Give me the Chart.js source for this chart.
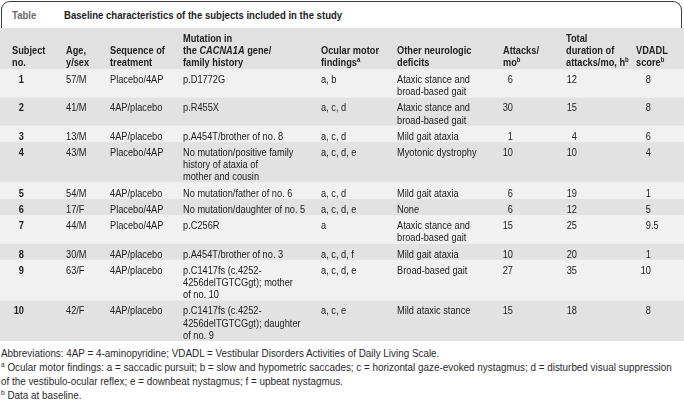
<!DOCTYPE html>
<html>
<head>
<meta charset="utf-8">
<script src="https://cdn.jsdelivr.net/npm/chart.js@4.4.1/dist/chart.umd.min.js"></script>
<style>
  body { margin: 0; width: 684px; height: 404px; background: #fff; position: relative; overflow: hidden;
         font-family: "Liberation Sans", Arial, sans-serif; color: #222; }
  #titleBox { position: absolute; left: 1px; top: 1px; width: 679px; height: 27px; border: 1.5px solid #3a3a3a;
              border-bottom: none; border-radius: 9px 9px 0 0; box-sizing: content-box; }
  #titleBox span { position: absolute; top: 7px; font-weight: bold; font-size: 11px; white-space: nowrap;
                   transform: scaleX(0.87); transform-origin: left center; }
  #tableWrap { position: absolute; left: 0; top: 28px; width: 684px; }
  #notes { position: absolute; left: 1px; top: 346px; font-size: 10.5px; line-height: 14px; white-space: nowrap; color: #2a2a2a;
           transform: scaleX(0.94); transform-origin: left top; }
  #notes sup { font-size: 7px; vertical-align: top; position: relative; top: -2px; }
</style>
</head>
<body>
<div id="titleBox">
  <span style="left:10px;color:#6b6b6b">Table</span>
  <span style="left:62px;color:#1e1e1e">Baseline characteristics of the subjects included in the study</span>
</div>
<div id="tableWrap"><canvas id="tableChart"></canvas></div>
<div id="notes">
  Abbreviations: 4AP = 4-aminopyridine; VDADL = Vestibular Disorders Activities of Daily Living Scale.<br>
  <sup>a</sup> Ocular motor findings: a = saccadic pursuit; b = slow and hypometric saccades; c = horizontal gaze-evoked nystagmus; d = disturbed visual suppression<br>
  of the vestibulo-ocular reflex; e = downbeat nystagmus; f = upbeat nystagmus.<br>
  <sup>b</sup> Data at baseline.
</div>
<script>
// Spaltenköpfe (^x = hochgestellt, *...* = kursiv)
const headers = [
    ['Subject', 'no.'],
    ['Age,', 'y/sex'],
    ['Sequence of', 'treatment'],
    ['Mutation in', 'the *CACNA1A* gene/', 'family history'],
    ['Ocular motor', 'findings^a'],
    ['Other neurologic', 'deficits'],
    ['Attacks/', 'mo^b'],
    ['Total', 'duration of', 'attacks/mo, h^b'],
    ['VDADL', 'score^b']
];

// Daten pro Patient
const subjects = ['1', '2', '3', '4', '5', '6', '7', '8', '9', '10'];
const ageSex = ['57/M', '41/M', '13/M', '43/M', '54/M', '17/F', '44/M', '30/M', '63/F', '42/F'];
const sequence = ['Placebo/4AP', '4AP/placebo', '4AP/placebo', 'Placebo/4AP', '4AP/placebo',
                  'Placebo/4AP', 'Placebo/4AP', '4AP/placebo', '4AP/placebo', '4AP/placebo'];
const mutation = [
    ['p.D1772G'],
    ['p.R455X'],
    ['p.A454T/brother of no. 8'],
    ['No mutation/positive family', 'history of ataxia of', 'mother and cousin'],
    ['No mutation/father of no. 6'],
    ['No mutation/daughter of no. 5'],
    ['p.C256R'],
    ['p.A454T/brother of no. 3'],
    ['p.C1417fs (c.4252-', '4256delTGTCGgt); mother', 'of no. 10'],
    ['p.C1417fs (c.4252-', '4256delTGTCGgt); daughter', 'of no. 9']
];
const ocular = ['a, b', 'a, c, d', 'a, c, d', 'a, c, d, e', 'a, c, d', 'a, c, d, e', 'a', 'a, c, d, f', 'a, c, d, e', 'a, c, e'];
const otherDeficits = [
    ['Ataxic stance and', 'broad-based gait'],
    ['Ataxic stance and', 'broad-based gait'],
    ['Mild gait ataxia'],
    ['Myotonic dystrophy'],
    ['Mild gait ataxia'],
    ['None'],
    ['Ataxic stance and', 'broad-based gait'],
    ['Mild gait ataxia'],
    ['Broad-based gait'],
    ['Mild ataxic stance']
];
const attacksPerMonth = [6, 30, 1, 10, 6, 6, 15, 10, 27, 15];
const durationHours = [12, 15, 4, 10, 19, 12, 25, 20, 35, 18];
const vdadlScore = [8, 8, 6, 4, 1, 5, 9.5, 1, 10, 8];

// Layout
const colX = [24, 66, 110, 183, 321, 397, 513, 577, 651];
const colAlign = ['right', 'left', 'left', 'left', 'left', 'left', 'right', 'right', 'decimal'];
const headX = [12, 66, 110, 183, 321, 397, 503, 566, 636];
const LINE = 12.1, PAD = 4.2, HEADER_H = 41, FIRST = 10;
const FONT = '"Liberation Sans", Arial, sans-serif';
const SX = 0.84; // schmale Schrift nachbilden
const WIDTH = 684;

const columns = [
    subjects.map(s => [s]),
    ageSex.map(s => [s]),
    sequence.map(s => [s]),
    mutation,
    ocular.map(s => [s]),
    otherDeficits,
    attacksPerMonth.map(v => [String(v)]),
    durationHours.map(v => [String(v)]),
    vdadlScore.map(v => [String(v)])
];

// Zeilenhöhen aus der Anzahl der Textzeilen
const rowLines = subjects.map((_, r) => Math.max(...columns.map(c => c[r].length)));
const bands = [{ top: 0, bottom: HEADER_H, color: '#e1e1e1' }];
const cells = [];

headers.forEach((h, c) => {
    h.forEach((txt, i) => {
        cells.push({ x: headX[c], y: HEADER_H - 7 - (h.length - 1 - i) * 12, text: txt, align: 'left', bold: true });
    });
});

let rowTop = HEADER_H;
rowLines.forEach((n, r) => {
    const rowBottom = rowTop + n * LINE + PAD;
    bands.push({ top: rowTop, bottom: rowBottom, color: r % 2 === 0 ? '#f1f1f1' : '#e2e2e2' });
    columns.forEach((col, c) => {
        col[r].forEach((txt, i) => {
            cells.push({ x: colX[c], y: rowTop + FIRST + i * LINE, text: txt, align: colAlign[c], bold: c === 0 });
        });
    });
    rowTop = rowBottom;
});
const HEIGHT = Math.ceil(rowTop);

function parseRich(txt) {
    const parts = [];
    txt.split(/(\^[a-z]|\*[^*]+\*)/).forEach(p => {
        if (!p) return;
        if (p[0] === '^') parts.push({ t: p.slice(1), sup: true });
        else if (p[0] === '*') parts.push({ t: p.slice(1, -1), it: true });
        else parts.push({ t: p });
    });
    return parts;
}

function segFont(seg, bold) {
    const size = seg.sup ? 7 : 11;
    return `${seg.it ? 'italic ' : ''}${bold ? 'bold ' : ''}${size}px ${FONT}`;
}

function drawRich(ctx, raw, x, y) {
    const segs = parseRich(raw.text);
    let w = 0;
    segs.forEach(s => { ctx.font = segFont(s, raw.bold); s.w = ctx.measureText(s.t).width * SX; w += s.w; });
    let start = x;
    if (raw.align === 'right') start = x - w;
    if (raw.align === 'center') start = x - w / 2;
    if (raw.align === 'decimal') {
        ctx.font = segFont({}, raw.bold);
        start = x - ctx.measureText(raw.text.split('.')[0]).width * SX;
    }
    ctx.textBaseline = 'alphabetic';
    ctx.fillStyle = '#222';
    segs.forEach(s => {
        ctx.font = segFont(s, raw.bold);
        ctx.save();
        ctx.translate(start, s.sup ? y - 0.5 : y + 4);
        ctx.scale(SX, 1);
        ctx.fillText(s.t, 0, 0);
        ctx.restore();
        start += s.w;
    });
}

const tablePlugin = {
    id: 'tablePlugin',
    beforeDatasetsDraw(chart) {
        const { ctx, scales } = chart;
        ctx.save();
        bands.forEach(b => {
            const x1 = scales.x.getPixelForValue(0), x2 = scales.x.getPixelForValue(WIDTH);
            const y1 = scales.y.getPixelForValue(b.top), y2 = scales.y.getPixelForValue(b.bottom);
            ctx.fillStyle = b.color;
            ctx.fillRect(x1, y1, x2 - x1, y2 - y1);
        });
        ctx.restore();
    },
    afterDatasetsDraw(chart) {
        const ctx = chart.ctx;
        const meta = chart.getDatasetMeta(0);
        ctx.save();
        meta.data.forEach((pt, i) => drawRich(ctx, cells[i], pt.x, pt.y));
        ctx.restore();
    }
};

const canvas = document.getElementById('tableChart');
canvas.width = WIDTH;
canvas.height = HEIGHT;

new Chart(canvas, {
    type: 'scatter',
    data: {
        datasets: [{
            data: cells.map(c => ({ x: c.x, y: c.y })),
            pointRadius: 0,
            pointHoverRadius: 0
        }]
    },
    options: {
        responsive: false,
        animation: false,
        devicePixelRatio: 1,
        layout: { padding: 0 },
        events: [],
        scales: {
            x: { type: 'linear', min: 0, max: WIDTH, display: false },
            y: { type: 'linear', min: 0, max: HEIGHT, reverse: true, display: false }
        },
        plugins: { legend: { display: false }, tooltip: { enabled: false } }
    },
    plugins: [tablePlugin]
});
</script>
</body>
</html>
